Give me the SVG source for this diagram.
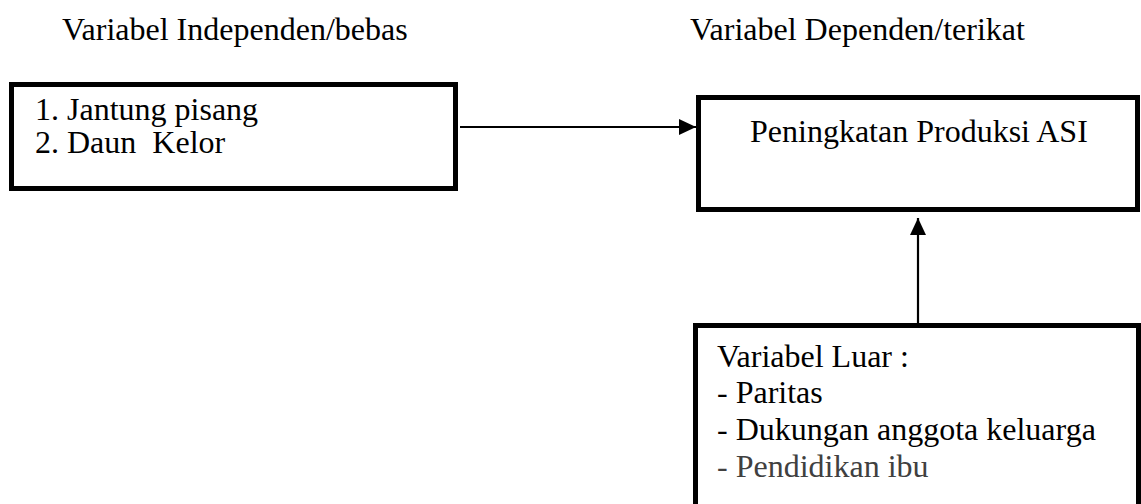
<svg xmlns="http://www.w3.org/2000/svg" width="1141" height="504" viewBox="0 0 1141 504">
  <style>
    .box { fill: #ffffff; stroke: #000000; stroke-width: 5; }
    .t { font-family: 'Liberation Serif', 'DejaVu Serif', serif; font-size: 32px; fill: #000000; }
    .gray { fill: #404040; }
    .conn { stroke: #000000; stroke-width: 2.2; fill: none; }
  </style>
  <defs>
    <marker id="arrow" markerUnits="userSpaceOnUse" markerWidth="18" markerHeight="16" refX="17" refY="8" orient="auto">
      <polygon points="0,0 17,8 0,16" fill="#000000"/>
    </marker>
  </defs>
  <rect width="1141" height="504" fill="#ffffff"/>

  <g id="header-independen">
    <text class="t" x="62" y="40">Variabel Independen/bebas</text>
  </g>
  <g id="header-dependen">
    <text class="t" x="690" y="40">Variabel Dependen/terikat</text>
  </g>

  <g id="node-independen">
    <rect class="box" x="11.5" y="84.5" width="444" height="104"/>
    <text class="t" x="35" y="120">1. Jantung pisang</text>
    <text class="t" x="35" y="153" xml:space="preserve">2. Daun  Kelor</text>
  </g>

  <g id="node-dependen">
    <rect class="box" x="698.5" y="97.5" width="439" height="112"/>
    <text class="t" x="750" y="142">Peningkatan Produksi ASI</text>
  </g>

  <g id="node-luar">
    <rect class="box" x="695.5" y="325.5" width="443" height="200"/>
    <text class="t" x="717" y="367">Variabel Luar :</text>
    <text class="t" x="717" y="403">- Paritas</text>
    <text class="t" x="717" y="440">- Dukungan anggota keluarga</text>
    <text class="t gray" x="717" y="477">- Pendidikan ibu</text>
  </g>

  <g id="connectors">
    <line class="conn" x1="460" y1="127" x2="696" y2="127" marker-end="url(#arrow)"/>
    <line class="conn" x1="918" y1="323" x2="918" y2="218" marker-end="url(#arrow)"/>
  </g>
</svg>
